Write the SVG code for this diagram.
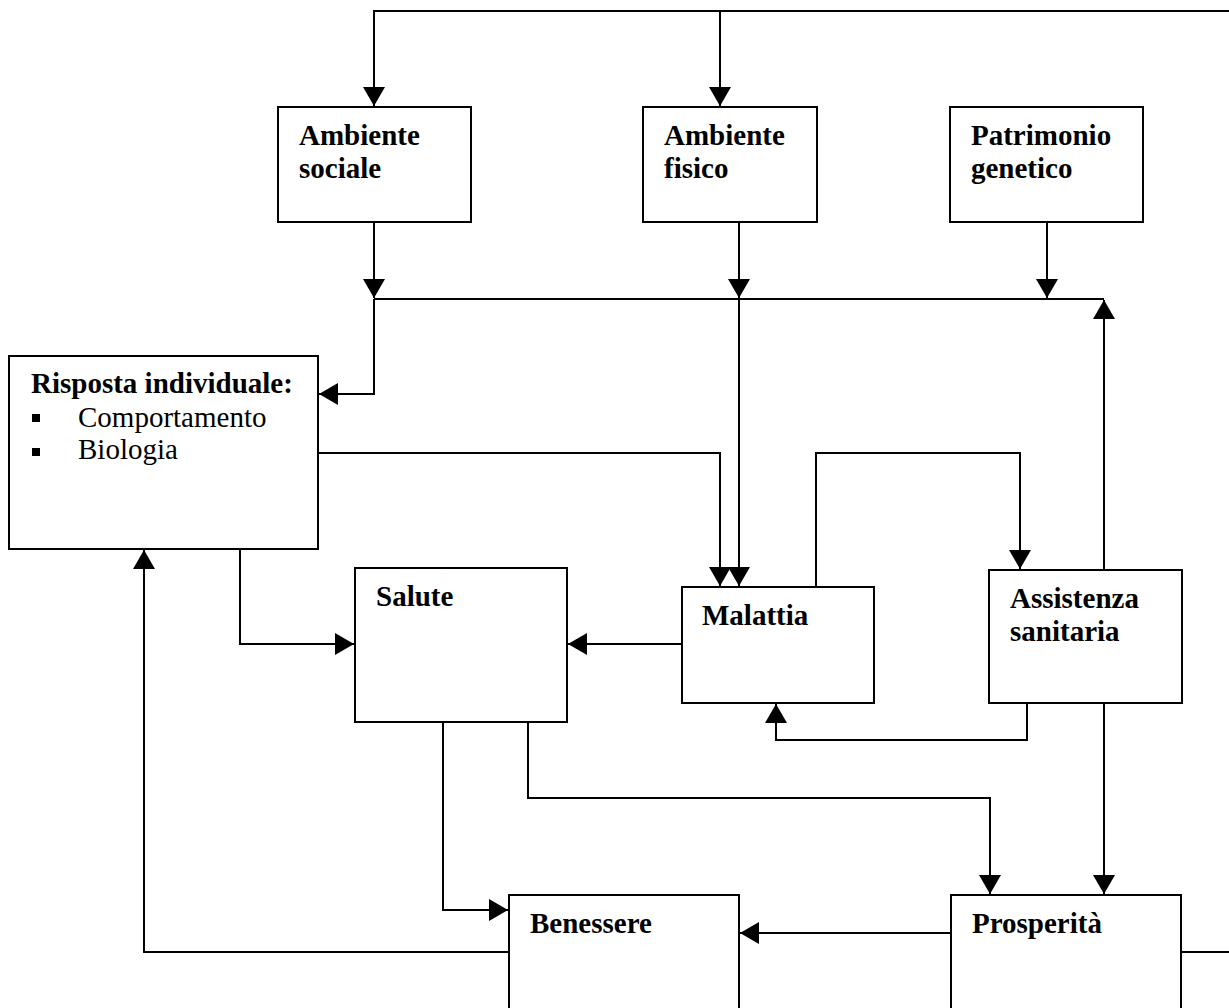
<svg xmlns="http://www.w3.org/2000/svg" width="1229" height="1008" viewBox="0 0 1229 1008">
<style>
.box{fill:#fff;stroke:#000;stroke-width:2}
.t{font-family:"Liberation Serif","Times New Roman",serif;font-size:29px;font-weight:bold;fill:#000}
.r{font-family:"Liberation Serif","Times New Roman",serif;font-size:29px;fill:#000}
.c{fill:none;stroke:#000;stroke-width:2}
.a{marker-end:url(#arr)}
</style>
<defs>
<marker id="arr" markerUnits="userSpaceOnUse" markerWidth="20" markerHeight="22" viewBox="0 0 20 22" refX="19" refY="11" orient="auto">
<path d="M0,0 L19,11 L0,22 z" fill="#000"/>
</marker>
</defs>
<rect width="1229" height="1008" fill="#fff"/>
<g id="connectors">
<path class="c" d="M1229,11 H374 V106"/>
<path class="c a" d="M374,11 V106"/>
<path class="c a" d="M720,11 V106"/>
<path class="c a" d="M374,222 V298"/>
<path class="c a" d="M739,222 V298"/>
<path class="c a" d="M1047,222 V298"/>
<path class="c" d="M374,299 H1104"/>
<path class="c a" d="M374,299 V394 H319"/>
<path class="c a" d="M739,299 V586"/>
<path class="c a" d="M1104,570 V300"/>
<path class="c a" d="M318,453 H720 V586"/>
<path class="c a" d="M816,587 V453 H1020 V569"/>
<path class="c a" d="M1027,703 V740 H776 V704"/>
<path class="c a" d="M1104,703 V894"/>
<path class="c a" d="M682,644 H568"/>
<path class="c a" d="M240,549 V644 H354"/>
<path class="c a" d="M443,722 V910 H508"/>
<path class="c a" d="M528,722 V798 H990 V894"/>
<path class="c a" d="M951,933 H740"/>
<path class="c a" d="M509,952 H144 V550"/>
<path class="c" d="M1181,952 H1229"/>
</g>
<g id="ambiente-sociale">
<rect class="box" x="278" y="107" width="193" height="115"/>
<text class="t" x="299" y="145">Ambiente</text>
<text class="t" x="299" y="178">sociale</text>
</g>
<g id="ambiente-fisico">
<rect class="box" x="643" y="107" width="174" height="115"/>
<text class="t" x="664" y="145">Ambiente</text>
<text class="t" x="664" y="178">fisico</text>
</g>
<g id="patrimonio-genetico">
<rect class="box" x="950" y="107" width="193" height="115"/>
<text class="t" x="971" y="145">Patrimonio</text>
<text class="t" x="971" y="178">genetico</text>
</g>
<g id="risposta-individuale">
<rect class="box" x="9" y="356" width="309" height="193"/>
<text class="t" x="31" y="393">Risposta individuale:</text>
<rect x="32" y="414" width="8" height="8" fill="#000"/>
<text class="r" x="78" y="427">Comportamento</text>
<rect x="32" y="448" width="8" height="8" fill="#000"/>
<text class="r" x="78" y="459">Biologia</text>
</g>
<g id="salute">
<rect class="box" x="355" y="568" width="212" height="154"/>
<text class="t" x="376" y="606">Salute</text>
</g>
<g id="malattia">
<rect class="box" x="682" y="587" width="192" height="116"/>
<text class="t" x="702" y="625">Malattia</text>
</g>
<g id="assistenza-sanitaria">
<rect class="box" x="989" y="570" width="193" height="133"/>
<text class="t" x="1010" y="608">Assistenza</text>
<text class="t" x="1010" y="641">sanitaria</text>
</g>
<g id="benessere">
<rect class="box" x="509" y="895" width="230" height="130"/>
<text class="t" x="530" y="933">Benessere</text>
</g>
<g id="prosperita">
<rect class="box" x="951" y="895" width="230" height="130"/>
<text class="t" x="972" y="933">Prosperità</text>
</g>
</svg>
